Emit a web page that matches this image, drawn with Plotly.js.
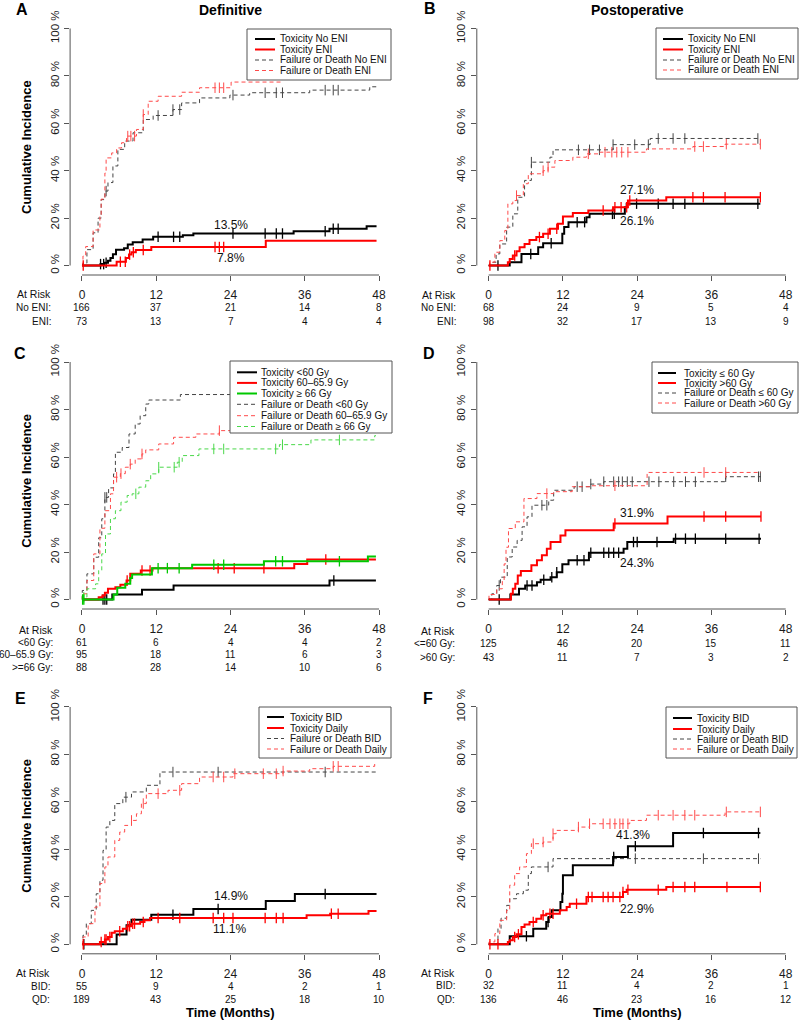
<!DOCTYPE html>
<html><head><meta charset="utf-8">
<script src="https://cdn.plot.ly/plotly-3.0.1.min.js"></script>
<style>html,body{margin:0;padding:0;background:#fff}</style>
</head><body><div id="chart" style="width:800px;height:1021px"></div>
<script>
// ---------------- DATA ----------------
const timeTicks = [0, 12, 24, 36, 48];
const pctTicks = [0, 20, 40, 60, 80, 100];
const pctTickText = ['0 %', '20 %', '40 %', '60 %', '80 %', '100 %'];

// Panel A (Definitive, ENI)
const aNames = ['Toxicity No ENI', 'Toxicity ENI', 'Failure or Death No ENI', 'Failure or Death ENI'];
const aToxNoT = [0, 3.0, 3.6, 4.2, 4.6, 5.0, 5.5, 6.8, 7.4, 8.2, 9.8, 11.5, 16.3, 18.0, 34.2, 40.0, 46.0, 47.6];
const aToxNoV = [0, 0.6, 1.2, 2.0, 3.2, 4.8, 6.6, 7.3, 8.9, 9.8, 11.0, 12.1, 12.8, 13.5, 14.5, 15.5, 16.6, 16.6];
const aToxNoC = [3.0, 3.5, 3.9, 12.3, 14.8, 15.8, 24.4, 29.6, 31.4, 32.4, 39.3, 40.6, 41.4];
const aToxEnT = [0, 5.6, 7.1, 7.6, 8.0, 8.7, 11.2, 29.7, 47.6];
const aToxEnV = [0, 1.6, 3.2, 4.6, 5.6, 6.5, 7.8, 10.4, 10.4];
const aToxEnC = [0.2, 6.2, 7.0, 7.7, 8.3, 9.9, 21.5, 22.2, 22.9];
const aFailNoT = [0, 0.16, 0.8, 1.8, 2.6, 3.1, 3.7, 4.2, 5.0, 5.8, 6.9, 8.25, 9.9, 11.5, 14.7, 16.1, 19.0, 23.9, 27.1, 36.8, 46.5, 47.6];
const aFailNoV = [0, 1, 6.7, 13.8, 20, 27.8, 31.4, 35, 42, 49, 52.5, 56, 61.6, 63.3, 65.8, 68.6, 70.7, 71.9, 72.9, 74, 75.4, 75.4];
const aFailNoC = [3.9, 12.3, 14.7, 15.8, 24.4, 29.6, 31.4, 32.4, 39.3, 40.6, 41.4];
const aFailEnT = [0, 0.16, 0.6, 1.8, 2.9, 3.1, 3.7, 3.9, 4.8, 5.6, 6.4, 7.2, 8.8, 9.9, 10.7, 12.3, 16.1, 19.0, 24.1, 32.5];
const aFailEnV = [0, 4, 8, 15, 21, 28, 39, 45.4, 47.5, 49.6, 51.8, 54.6, 57.4, 63.7, 69.3, 71.4, 73.1, 75, 77.4, 77.4];
const aFailEnC = [7.4, 7.9, 8.5, 9.9, 21.5, 22.2, 22.9];
const aRiskLabels = ['No ENI:', 'ENI:'];
const aRiskNo = [166, 37, 21, 14, 8];
const aRiskEn = [73, 13, 7, 4, 4];

// Panel B (Postoperative, ENI)
const bNames = ['Toxicity No ENI', 'Toxicity ENI', 'Failure or Death No ENI', 'Failure or Death ENI'];
const bToxNoT = [0, 3.4, 5.3, 8.0, 8.8, 11.9, 12.2, 12.9, 15.8, 16.3, 22.0, 22.3, 43.9];
const bToxNoV = [0, 1.4, 4.9, 7.7, 9.4, 13.4, 16.2, 18.3, 20.4, 21.8, 24.6, 26.1, 26.1];
const bToxNoC = [1.5, 6.8, 10.1, 14.3, 15.5, 20.0, 20.3, 23.9, 27.4, 29.8, 31.7, 43.5];
const bToxEnT = [0, 3.1, 3.4, 3.9, 4.5, 5.0, 5.8, 6.6, 7.7, 8.8, 9.9, 11.2, 12.0, 13.6, 16.1, 20.1, 22.5, 28.7, 43.9];
const bToxEnV = [0, 1.4, 2.8, 4.2, 6.0, 7.7, 9.1, 10.8, 12.0, 13.4, 15.5, 17.6, 20.7, 22.2, 23.2, 24.6, 27.4, 28.8, 28.8];
const bToxEnC = [0.2, 4.2, 8.2, 9.6, 11.0, 18.5, 20.4, 21.4, 22.3, 22.8, 33.0, 34.7, 38.2, 43.9];
const bFailNoT = [0, 0.7, 1.2, 1.8, 2.9, 3.9, 4.7, 5.8, 6.9, 9.9, 10.4, 20.1, 26.1, 43.9];
const bFailNoV = [0, 1.4, 4.9, 9.1, 16.2, 21.8, 28.8, 35.9, 43.6, 45.7, 48.8, 51.0, 53.6, 53.6];
const bFailNoC = [6.9, 14.5, 16.3, 17.9, 20.1, 23.6, 25.8, 27.4, 29.8, 31.7, 43.5];
const bFailEnT = [0, 0.16, 1.0, 1.8, 2.6, 3.1, 3.9, 4.5, 5.6, 6.4, 8.8, 9.6, 10.7, 13.6, 15.8, 17.9, 25.5, 33.0, 38.2, 43.9];
const bFailEnV = [0, 1.4, 5.6, 10.5, 14.8, 26.0, 27.4, 29.5, 34.5, 38.7, 40.0, 41.5, 44.3, 45.7, 47.1, 47.8, 49.2, 50.2, 51.2, 51.2];
const bFailEnC = [4.5, 8.8, 9.6, 16.1, 18.8, 19.9, 20.7, 21.5, 22.5, 33.3, 34.7, 38.4, 43.9];
const bRiskLabels = ['No ENI:', 'ENI:'];
const bRiskNo = [68, 24, 9, 5, 4];
const bRiskEn = [98, 32, 17, 13, 9];

// Panel C (Definitive, dose)
const cNames = ['Toxicity &lt;60 Gy', 'Toxicity 60\u201365.9 Gy', 'Toxicity \u2265 66 Gy', 'Failure or Death &lt;60 Gy', 'Failure or Death 60\u201365.9 Gy', 'Failure or Death \u2265 66 Gy'];
const cToxLoT = [0, 4.9, 9.7, 14.8, 40.0, 47.5];
const cToxLoV = [0, 2.1, 4.1, 5.9, 8.0, 8.0];
const cToxLoC = [3.4, 3.7, 4.0, 40.7];
const cToxMidT = [0, 2.7, 3.3, 3.7, 4.2, 5.4, 6.2, 7.2, 7.8, 9.5, 11.4, 34.3, 36.4, 47.5];
const cToxMidV = [0, 1.0, 1.7, 2.8, 4.5, 5.2, 6.2, 8.0, 10.8, 12.2, 13.2, 15.0, 16.8, 16.8];
const cToxMidC = [7.3, 9.7, 11.0, 22.0, 24.6, 29.4, 39.4];
const cToxHiT = [0, 5.1, 5.7, 7.0, 7.8, 8.1, 11.3, 17.8, 29.4, 46.2, 47.5];
const cToxHiV = [0, 2.1, 4.9, 6.6, 9.1, 10.5, 13.2, 14.6, 16.1, 18.1, 18.1];
const cToxHiC = [0.1, 0.3, 12.3, 13.8, 15.7, 21.3, 22.9, 31.3, 32.4, 41.6];
const cFailLoT = [0, 0.05, 0.8, 1.9, 2.7, 3.2, 3.7, 4.3, 5.1, 5.4, 6.5, 7.6, 8.6, 9.4, 10.3, 10.8, 15.9, 47.5];
const cFailLoV = [0, 3.8, 10.8, 17.8, 26, 34, 43, 47, 52.9, 62, 64, 69.7, 73.9, 77.4, 82.3, 84, 86.3, 86.3];
const cFailLoC = [3.7, 4.0];
const cFailMidT = [0, 0.05, 0.8, 1.9, 2.9, 3.7, 4.6, 5.1, 6.2, 7.0, 7.8, 8.6, 9.7, 10.3, 12.4, 14.8, 18.4, 22.2, 47.5];
const cFailMidV = [0, 2.4, 8, 19.2, 30, 37.4, 44.5, 51.5, 53, 55.7, 57, 59.2, 61.3, 63, 65.5, 68.3, 69.7, 71.1, 71.1];
const cFailMidC = [5.6, 6.3, 7.8, 9.7, 22.2];
const cFailHiT = [0, 0.05, 0.8, 2.2, 2.7, 3.2, 3.8, 4.6, 5.4, 6.3, 7.3, 8.1, 9.2, 10.3, 11.1, 12.4, 15.4, 16.2, 18.9, 31.9, 37.0, 47.3, 47.5];
const cFailHiV = [0, 1, 4.5, 6.6, 12.2, 19.2, 27.6, 34, 37.4, 41, 43.8, 44.5, 47.3, 50, 52.9, 55.7, 57.8, 60.6, 63.4, 65.2, 67.2, 69, 69];
const cFailHiC = [0.3, 8.7, 12.4, 14.9, 15.7, 21.3, 22.9, 31.3, 32.4, 41.6];
const cRiskLabels = ['&lt;60 Gy:', '60\u201365.9 Gy:', '&gt;=66 Gy:'];
const cRiskLo = [61, 6, 4, 4, 2];
const cRiskMid = [95, 18, 11, 6, 3];
const cRiskHi = [88, 28, 14, 10, 6];

// Panel D (Postoperative, dose)
const dNames = ['Toxicity \u2264 60 Gy', 'Toxicity &gt;60 Gy', 'Failure or Death \u2264 60 Gy', 'Failure or Death &gt;60 Gy'];
const dToxLoT = [0, 3.5, 4.9, 5.9, 7.8, 8.4, 10.0, 11.0, 11.9, 12.9, 16.2, 21.8, 22.4, 29.9, 44.0];
const dToxLoV = [0, 2.1, 4.5, 5.9, 7.3, 8.3, 9.4, 11.5, 14.8, 16.5, 19.7, 21.4, 24.2, 25.6, 25.6];
const dToxLoC = [1.7, 6.2, 7.0, 8.9, 10.2, 11.0, 14.3, 15.4, 16.5, 18.6, 19.4, 20.2, 21.0, 23.4, 24.0, 27.2, 30.2, 31.8, 33.4, 38.3, 43.7];
const dToxHiT = [0, 3.6, 3.9, 4.3, 4.7, 5.2, 6.9, 7.8, 8.6, 9.4, 10.0, 11.6, 12.4, 20.2, 28.9, 44.0];
const dToxHiV = [0, 2.4, 4.5, 6.6, 10.1, 12.0, 14.4, 16.5, 18.6, 21.4, 24.2, 27.0, 29.2, 32.0, 35.0, 35.0];
const dToxHiC = [20.4, 34.8, 38.3, 44.0];
const dFailLoT = [0, 0.5, 1.3, 1.9, 3.0, 3.8, 4.6, 5.4, 6.2, 7.0, 9.7, 10.5, 13.8, 16.5, 18.6, 38.3, 44.0];
const dFailLoV = [0, 2.4, 5.9, 9.4, 17.9, 22.1, 24.9, 30.6, 34.8, 39.7, 41.8, 46, 47.5, 48.6, 49.6, 51.7, 51.7];
const dFailLoC = [1.7, 8.6, 9.4, 14.3, 15.1, 16.5, 18.6, 20.2, 21.0, 21.6, 22.4, 23.2, 25.9, 27.5, 29.9, 31.8, 33.4, 38.3, 43.6, 43.9];
const dFailHiT = [0, 0.05, 1.3, 2.2, 2.5, 2.8, 3.2, 4.3, 5.7, 7.8, 10.5, 13.5, 16.5, 25.6, 44.0];
const dFailHiV = [0, 2.1, 4.5, 8, 15, 22, 29.9, 32.7, 42.5, 44.6, 45.4, 47.5, 47.9, 53.5, 53.5];
const dFailHiC = [9.4, 20.4, 34.8, 38.3];
const dRiskLabels = ['&lt;=60 Gy:', '&gt;60 Gy:'];
const dRiskLo = [125, 46, 20, 15, 11];
const dRiskHi = [43, 11, 7, 3, 2];

// Panel E (Definitive, fractionation)
const eNames = ['Toxicity BID', 'Toxicity Daily', 'Failure or Death BID', 'Failure or Death Daily'];
const eToxBidT = [0, 5.6, 7.2, 8.0, 11.2, 18.0, 29.7, 34.4, 47.6];
const eToxBidV = [0, 4.1, 8.0, 10.4, 12.5, 14.9, 18.3, 21.2, 21.2];
const eToxBidC = [0.3, 14.7, 22.0, 39.3];
const eToxQdT = [0, 2.9, 3.7, 4.2, 4.8, 5.3, 6.6, 7.3, 8.0, 9.4, 10.1, 11.0, 36.3, 40.1, 46.3, 47.6];
const eToxQdV = [0, 1.0, 2.0, 3.1, 4.9, 5.5, 6.6, 7.6, 8.7, 9.4, 10.1, 11.1, 12.2, 12.9, 14.0, 14.0];
const eToxQdC = [0.2, 3.1, 3.7, 3.9, 4.5, 6.1, 7.4, 7.7, 8.2, 8.5, 9.9, 12.3, 15.8, 21.2, 22.9, 24.4, 29.6, 31.4, 32.5, 40.3, 41.4];
const eFailBidT = [0, 0.16, 0.7, 1.5, 2.3, 2.9, 3.4, 3.9, 4.5, 5.3, 6.6, 8.0, 10.4, 12.6, 47.6];
const eFailBidV = [0, 3.8, 8.7, 14.3, 21.3, 27, 39.6, 49.4, 52.2, 59.3, 62, 64.2, 67, 72.6, 72.6];
const eFailBidC = [7.1, 14.7, 22.0, 39.3];
const eFailQdT = [0, 0.16, 1.0, 2.1, 2.9, 3.7, 4.2, 5.3, 6.1, 6.9, 8.0, 8.8, 9.6, 10.4, 13.9, 16.1, 19.0, 24.4, 32.5, 36.8, 40.6, 47.3, 47.6];
const eFailQdV = [0, 3.1, 8.7, 15.7, 25.6, 32.6, 36.8, 43.8, 47.3, 50.1, 52.2, 55, 59.3, 63.5, 64.9, 67.7, 70.5, 71.9, 73.0, 74.0, 75.0, 76.1, 76.1];
const eFailQdC = [8.0, 9.9, 12.3, 15.8, 21.2, 22.9, 24.7, 29.3, 31.4, 32.5, 40.6, 41.4];
const eRiskLabels = ['BID:', 'QD:'];
const eRiskBid = [55, 9, 4, 2, 1];
const eRiskQd = [189, 43, 25, 18, 10];

// Panel F (Postoperative, fractionation)
const fNames = ['Toxicity BID', 'Toxicity Daily', 'Failure or Death BID', 'Failure or Death Daily'];
const fToxBidT = [0, 3.4, 7.2, 9.3, 9.7, 10.2, 11.6, 11.9, 12.0, 13.6, 20.1, 22.5, 29.8, 43.9];
const fToxBidV = [0, 3.4, 6.6, 9.4, 11.5, 14.3, 17.8, 21.3, 29.1, 33.3, 36.8, 41.3, 46.9, 46.9];
const fToxBidC = [6.1, 9.6, 20.2, 23.7, 34.7, 43.6];
const fToxQdT = [0, 3.1, 3.4, 3.9, 4.5, 5.3, 5.8, 6.6, 7.7, 8.5, 9.3, 11.5, 12.6, 13.1, 15.8, 21.7, 22.3, 28.7, 43.9];
const fToxQdV = [0, 1.0, 1.7, 3.1, 4.2, 7.3, 8.3, 9.4, 10.8, 12.2, 12.9, 14.3, 15.7, 17.1, 19.9, 22.0, 23.0, 24.2, 24.2];
const fToxQdC = [0.2, 1.5, 4.2, 4.8, 7.2, 8.8, 9.9, 10.4, 14.2, 16.1, 16.7, 18.5, 19.3, 20.1, 21.2, 21.7, 22.5, 27.4, 29.8, 31.7, 33.3, 38.5, 43.9];
const fFailBidT = [0, 1.5, 2.0, 2.9, 3.4, 4.5, 5.6, 6.4, 6.9, 10.4, 43.9];
const fFailBidV = [0, 6.6, 11, 16.4, 19.2, 21.3, 22.8, 29.8, 32.6, 36.1, 36.1];
const fFailBidC = [9.6, 20.2, 23.7, 34.7, 43.6];
const fFailQdT = [0, 0.05, 1.0, 1.8, 2.9, 3.4, 4.2, 5.0, 6.1, 6.9, 8.8, 10.4, 10.9, 14.5, 16.3, 22.8, 25.5, 38.2, 43.9];
const fFailQdV = [0, 1, 4.5, 10.1, 14.3, 24.9, 29.8, 32.6, 38.2, 42.4, 43.1, 46.6, 48, 49.4, 50.8, 52.2, 54.4, 55.8, 55.8];
const fFailQdC = [7.2, 8.8, 10.4, 14.5, 16.3, 18.5, 19.6, 20.4, 21.2, 21.7, 22.5, 27.4, 29.8, 31.7, 33.3, 38.4, 43.9];
const fRiskLabels = ['BID:', 'QD:'];
const fRiskBid = [32, 11, 4, 2, 1];
const fRiskQd = [136, 46, 23, 16, 12];

// Percent labels
const aPct = ['13.5%', '7.8%'];
const bPct = ['27.1%', '26.1%'];
const dPct = ['31.9%', '24.3%'];
const ePct = ['14.9%', '11.1%'];
const fPct = ['41.3%', '22.9%'];

// ---------------- STYLES / LAYOUT ----------------
const W = 800, H = 1021;
const PX = x => x / W, PY = y => 1 - y / H;
const FONT = 'Liberation Sans, Arial, sans-serif';
const AXC = '#555';
const S = {
  blk: {color: '#000000', width: 2, dash: 'solid'},
  red: {color: '#ff0000', width: 2, dash: 'solid'},
  grn: {color: '#00c800', width: 2, dash: 'solid'},
  gdash: {color: '#444444', width: 1, dash: '4px,3px'},
  rdash: {color: '#ff4a4a', width: 1, dash: '4px,3px'},
  ndash: {color: '#4ad84a', width: 1, dash: '4px,3px'}
};
function stepAt(T, V, t) { let v = V[0]; for (let i = 0; i < T.length; i++) { if (T[i] <= t) v = V[i]; else break; } return v; }

const leftX = [70.1, 390.9], rightX = [476.8, 797.6];
const rowY = [[19, 275], [352.5, 609], [697.5, 953.8]];

const panels = [
  {xd: leftX, yd: rowY[0], letter: 'A', lp: [22, 10], title: 'Definitive',
   curves: [[aFailNoT, aFailNoV, aFailNoC, S.gdash], [aFailEnT, aFailEnV, aFailEnC, S.rdash], [aToxNoT, aToxNoV, aToxNoC, S.blk], [aToxEnT, aToxEnV, aToxEnC, S.red]],
   legend: {names: aNames, styles: [S.blk, S.red, S.gdash, S.rdash], box: [247, 29, 391, 80], rows: [39, 49.5, 60, 70.5], line: [255, 275], tx: 278},
   risk: {labels: aRiskLabels, rows: [aRiskNo, aRiskEn], ys: [294, 308, 321], rx: 53},
   pct: [[aPct[0], 24, 17.3], [aPct[1], 24, 3.0]]},
  {xd: rightX, yd: rowY[0], letter: 'B', lp: [430, 9], title: 'Postoperative',
   curves: [[bFailNoT, bFailNoV, bFailNoC, S.gdash], [bFailEnT, bFailEnV, bFailEnC, S.rdash], [bToxNoT, bToxNoV, bToxNoC, S.blk], [bToxEnT, bToxEnV, bToxEnC, S.red]],
   legend: {names: bNames, styles: [S.blk, S.red, S.gdash, S.rdash], box: [656, 28, 798, 79], rows: [39, 49.5, 60, 70], line: [663, 683], tx: 686},
   risk: {labels: bRiskLabels, rows: [bRiskNo, bRiskEn], ys: [295, 307.5, 321], rx: 458},
   pct: [[bPct[0], 24, 31.9], [bPct[1], 24, 18.7]]},
  {xd: leftX, yd: rowY[1], letter: 'C', lp: [20, 353],
   curves: [[cFailLoT, cFailLoV, cFailLoC, S.gdash], [cFailMidT, cFailMidV, cFailMidC, S.rdash], [cFailHiT, cFailHiV, cFailHiC, S.ndash], [cToxLoT, cToxLoV, cToxLoC, S.blk], [cToxMidT, cToxMidV, cToxMidC, S.red], [cToxHiT, cToxHiV, cToxHiC, S.grn]],
   legend: {names: cNames, styles: [S.blk, S.red, S.grn, S.gdash, S.rdash, S.ndash], box: [230, 361, 392, 433], rows: [372.3, 382.9, 393.5, 404.3, 415.7, 426.5], line: [237, 257], tx: 259},
   risk: {labels: cRiskLabels, rows: [cRiskLo, cRiskMid, cRiskHi], ys: [629.5, 642, 654, 667], rx: 55},
   pct: []},
  {xd: rightX, yd: rowY[1], letter: 'D', lp: [429, 353],
   curves: [[dFailLoT, dFailLoV, dFailLoC, S.gdash], [dFailHiT, dFailHiV, dFailHiC, S.rdash], [dToxLoT, dToxLoV, dToxLoC, S.blk], [dToxHiT, dToxHiV, dToxHiC, S.red]],
   legend: {names: dNames, styles: [S.blk, S.red, S.gdash, S.rdash], box: [652, 362, 798, 413], rows: [373, 383, 393, 403], line: [658, 676], tx: 682},
   risk: {labels: dRiskLabels, rows: [dRiskLo, dRiskHi], ys: [630.5, 643, 657], rx: 457},
   pct: [[dPct[0], 24, 36.5], [dPct[1], 24, 15.4]]},
  {xd: leftX, yd: rowY[2], letter: 'E', lp: [20, 698],
   curves: [[eFailBidT, eFailBidV, eFailBidC, S.gdash], [eFailQdT, eFailQdV, eFailQdC, S.rdash], [eToxBidT, eToxBidV, eToxBidC, S.blk], [eToxQdT, eToxQdV, eToxQdC, S.red]],
   legend: {names: eNames, styles: [S.blk, S.red, S.gdash, S.rdash], box: [259, 707, 391, 758], rows: [717, 728, 738.5, 749], line: [267, 284], tx: 288},
   risk: {labels: eRiskLabels, rows: [eRiskBid, eRiskQd], ys: [973, 986, 999], rx: 52},
   pct: [[ePct[0], 24, 20.4], [ePct[1], 23.8, 6.6]], xtitle: true},
  {xd: rightX, yd: rowY[2], letter: 'F', lp: [428, 698],
   curves: [[fFailBidT, fFailBidV, fFailBidC, S.gdash], [fFailQdT, fFailQdV, fFailQdC, S.rdash], [fToxBidT, fToxBidV, fToxBidC, S.blk], [fToxQdT, fToxQdV, fToxQdC, S.red]],
   legend: {names: fNames, styles: [S.blk, S.red, S.gdash, S.rdash], box: [666, 707, 797, 758], rows: [718, 729, 739, 749], line: [673, 692], tx: 695},
   risk: {labels: fRiskLabels, rows: [fRiskBid, fRiskQd], ys: [973, 985.5, 999], rx: 457},
   pct: [[fPct[0], 23.4, 45.9], [fPct[1], 24, 15.0]], xtitle: true}
];

const traces = [];
const layout = {
  width: W, height: H, autosize: false, showlegend: false, hovermode: false,
  margin: {l: 0, r: 0, t: 0, b: 0, pad: 0},
  paper_bgcolor: '#fff', plot_bgcolor: 'rgba(0,0,0,0)',
  font: {family: FONT, color: '#111', size: 11},
  shapes: [], annotations: []
};

panels.forEach((p, i) => {
  const s = i === 0 ? '' : String(i + 1);
  const xa = 'x' + s, ya = 'y' + s;
  layout['xaxis' + s] = {
    domain: [PX(p.xd[0]), PX(p.xd[1])], range: [-1.92, 49.92], anchor: ya,
    tickvals: timeTicks, ticktext: timeTicks.map(String), ticks: 'outside', ticklen: 5, tickwidth: 1, tickcolor: AXC,
    showline: false, showgrid: false, zeroline: false, fixedrange: true,
    tickfont: {family: FONT, size: 12, color: '#1a1a1a'}, ticklabelstandoff: 4
  };
  layout['yaxis' + s] = {
    domain: [PY(p.yd[1]), PY(p.yd[0])], range: [-4, 104], anchor: xa,
    tickvals: pctTicks, ticktext: pctTickText, tickangle: -90, ticks: 'outside', ticklen: 5, tickwidth: 1, tickcolor: AXC,
    showline: false, showgrid: false, zeroline: false, fixedrange: true,
    tickfont: {family: FONT, size: 11.5, color: '#1a1a1a'}, ticklabelstandoff: 1
  };
  // axis lines (R style, from first to last tick)
  layout.shapes.push({type: 'line', xref: xa + ' domain', yref: ya, x0: 0, x1: 0, y0: 0, y1: 100, line: {color: AXC, width: 1}});
  layout.shapes.push({type: 'line', xref: xa, yref: ya + ' domain', x0: 0, x1: 48, y0: 0, y1: 0, line: {color: AXC, width: 1}});

  // curves
  p.curves.forEach(([T, V, C, st]) => {
    traces.push({type: 'scatter', mode: 'lines', x: T, y: V, xaxis: xa, yaxis: ya,
      line: {shape: 'hv', color: st.color, width: st.width, dash: st.dash}, hoverinfo: 'skip'});
    traces.push({type: 'scatter', mode: 'markers', x: C, y: C.map(t => stepAt(T, V, t)), xaxis: xa, yaxis: ya,
      marker: {symbol: 'line-ns', size: 7.5, color: st.color, line: {color: st.color, width: st.width > 1 ? 1.3 : 1}}, hoverinfo: 'skip', cliponaxis: false});
  });

  // legend box
  const L = p.legend;
  layout.shapes.push({type: 'rect', xref: 'paper', yref: 'paper', x0: PX(L.box[0]), x1: PX(L.box[2]), y0: PY(L.box[3]), y1: PY(L.box[1]),
    fillcolor: '#fff', line: {color: AXC, width: 1}, layer: 'above'});
  L.names.forEach((nm, k) => {
    const st = L.styles[k];
    layout.shapes.push({type: 'line', xref: 'paper', yref: 'paper', x0: PX(L.line[0]), x1: PX(L.line[1]), y0: PY(L.rows[k]), y1: PY(L.rows[k]),
      line: {color: st.color, width: st.width, dash: st.dash}, layer: 'above'});
    layout.annotations.push({xref: 'paper', yref: 'paper', x: PX(L.tx), y: PY(L.rows[k]), xanchor: 'left', yanchor: 'middle',
      text: nm, showarrow: false, font: {family: FONT, size: 10, color: '#111'}});
  });

  // at-risk table
  const R = p.risk;
  layout.annotations.push({xref: 'paper', yref: 'paper', x: PX(R.rx), y: PY(R.ys[0]), xanchor: 'right', yanchor: 'middle',
    text: 'At Risk', showarrow: false, font: {family: FONT, size: 10.5, color: '#111'}});
  R.labels.forEach((lb, k) => {
    layout.annotations.push({xref: 'paper', yref: 'paper', x: PX(R.rx), y: PY(R.ys[k + 1]), xanchor: 'right', yanchor: 'middle',
      text: lb, showarrow: false, font: {family: FONT, size: 10, color: '#111'}});
    R.rows[k].forEach((n, j) => {
      layout.annotations.push({xref: xa, yref: 'paper', x: timeTicks[j], y: PY(R.ys[k + 1]), xanchor: 'center', yanchor: 'middle',
        text: String(n), showarrow: false, font: {family: FONT, size: 10, color: '#111'}});
    });
  });

  // percent labels
  p.pct.forEach(([txt, x, y]) => {
    layout.annotations.push({xref: xa, yref: ya, x: x, y: y, xanchor: 'center', yanchor: 'middle', text: txt, showarrow: false,
      font: {family: FONT, size: 12, color: '#111'}});
  });

  // panel letter
  layout.annotations.push({xref: 'paper', yref: 'paper', x: PX(p.lp[0]), y: PY(p.lp[1]), xanchor: 'center', yanchor: 'middle',
    text: '<b>' + p.letter + '</b>', showarrow: false, font: {family: FONT, size: 16, color: '#000'}});
  // column titles
  if (p.title) layout.annotations.push({xref: xa, yref: 'paper', x: 24, y: PY(10), xanchor: 'center', yanchor: 'middle',
    text: '<b>' + p.title + '</b>', showarrow: false, font: {family: FONT, size: 14, color: '#000'}});
  // y title on left panels
  if (i % 2 === 0) layout.annotations.push({xref: 'paper', yref: ya, x: PX(27), y: 50, xanchor: 'center', yanchor: 'middle', textangle: -90,
    text: '<b>Cumulative Incidence</b>', showarrow: false, font: {family: FONT, size: 13, color: '#000'}});
  if (p.xtitle) layout.annotations.push({xref: xa, yref: 'paper', x: 24, y: PY(1012), xanchor: 'center', yanchor: 'middle',
    text: '<b>Time (Months)</b>', showarrow: false, font: {family: FONT, size: 13, color: '#000'}});
});

Plotly.newPlot('chart', traces, layout, {staticPlot: true, displayModeBar: false});
</script></body></html>
